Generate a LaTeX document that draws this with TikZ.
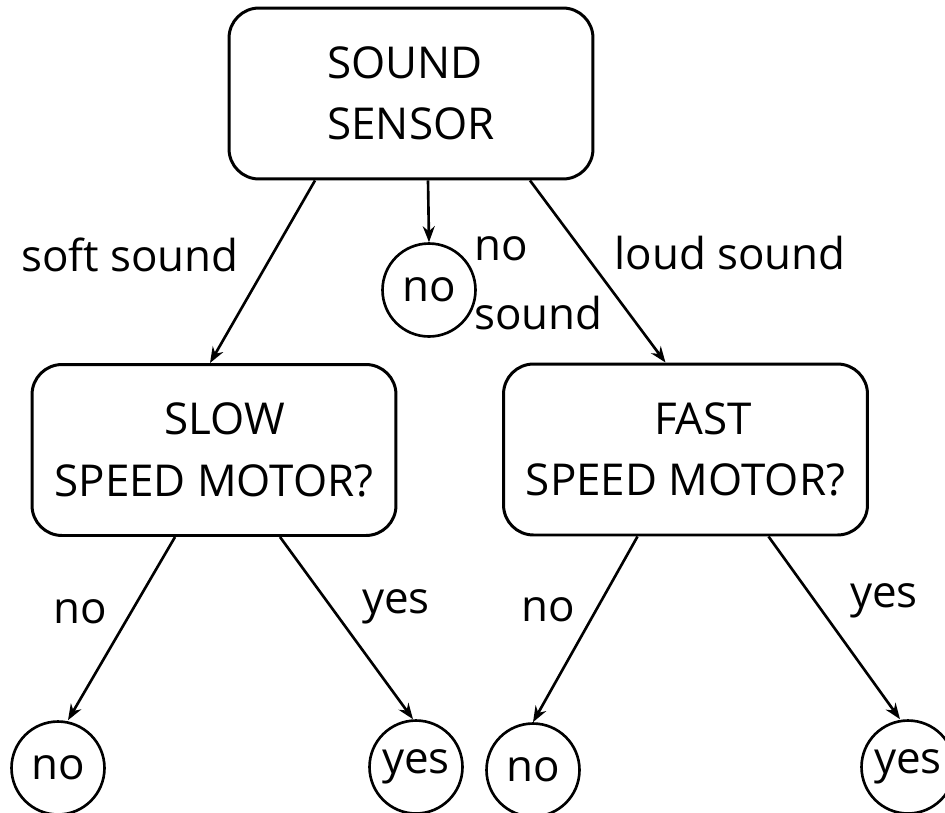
\documentclass[tikz,border=0pt]{standalone}
\usepackage{fontspec}
\setsansfont{Open Sans}
\usepackage{tikz}
\usetikzlibrary{shapes.geometric, arrows.meta, positioning, calc}
\definecolor{inkline}{RGB}{0, 0, 0}
\tikzset{
  font=\sffamily\fontsize{25}{31}\selectfont,
  baseblock/.style={
    rectangle, rounded corners=0.6cm, draw=inkline, line width=1.7pt,
    minimum width=7.28cm, minimum height=3.42cm, align=center
  },
  answerblock/.style={
    circle, draw=inkline, line width=1.5pt,
    minimum size=1.86cm, inner sep=0pt
  },
  edgelabel/.style={inner sep=0pt},
  flowline/.style={
    draw=inkline, -{Stealth[length=3.2mm, width=2.4mm]}, line width=1.5pt
  }
}
\begin{document}
\begin{tikzpicture}[x=0.02cm, y=-0.02cm]
  \useasboundingbox (0,0) rectangle (945,812);

  % Root: the sensor
  \node[baseblock, align=left] (sensor) at (411,93.5) {SOUND\\[4pt]SENSOR};

  % Second level: the two motor questions
  \node[baseblock] (slow) at (214,450) {\hspace*{0.5em}SLOW\\[4pt]SPEED MOTOR?};
  \node[baseblock] (fast) at (685.5,449.5) {\hspace*{0.8em}FAST\\[4pt]SPEED MOTOR?};

  % Answers
  \node[answerblock] (nomid) at (429,290) {no};
  \node[answerblock] (noslow) at (58,768) {no};
  \node[answerblock] (yesslow) at (416,767) {yes};
  \node[answerblock] (nofast) at (533,770) {no};
  \node[answerblock] (yesfast) at (908,767) {yes};

  % Connectors
  \draw[flowline] ($(sensor.south)+(-96,0)$) -- ($(slow.north)+(-4,0)$);
  \draw[flowline] ($(sensor.south)+(17,0)$) -- (nomid.north);
  \draw[flowline] ($(sensor.south)+(119,0)$) -- ($(fast.north)+(-20,0)$);
  \draw[flowline] ($(slow.south)+(-39,0)$) -- ($(noslow.north)+(10,0)$);
  \draw[flowline] ($(slow.south)+(66,0)$) -- ($(yesslow.north)+(-3,0)$);
  \draw[flowline] ($(fast.south)+(-48,0)$) -- (nofast.north);
  \draw[flowline] ($(fast.south)+(83,0)$) -- ($(yesfast.north)+(-8,0)$);

  % Edge labels
  \node[edgelabel] (lsoft) at (130,255) {soft sound};
  \node[edgelabel, align=left, anchor=west] (lnone) at (474,283) {no\\[8pt]sound};
  \node[edgelabel] (lloud) at (730,253) {loud sound};
  \node[edgelabel] (lslowno) at (80,612) {no};
  \node[edgelabel] (lslowyes) at (396,607) {yes};
  \node[edgelabel] (lfastno) at (548,610) {no};
  \node[edgelabel] (lfastyes) at (884,601) {yes};
\end{tikzpicture}
\end{document}
